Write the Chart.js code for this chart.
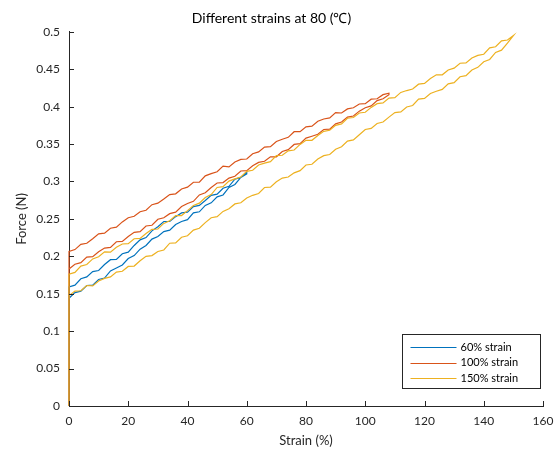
<!DOCTYPE html>
<html>
<head>
<meta charset="utf-8">
<script src="https://cdn.jsdelivr.net/npm/chart.js@4/dist/chart.umd.min.js"></script>
<style>
  html, body { margin: 0; padding: 0; background: #fff; }
  #wrap { width: 557px; height: 450px; }
</style>
</head>
<body>
<div id="wrap"><canvas id="c" width="557" height="450"></canvas></div>
<script>
// Strain grid (%) shared by all loops
const strain = [0,2,4,6,8,10,12,14,16,18,20,22,24,26,28,30,32,34,36,38,40,42,44,46,48,50,52,54,56,58,60,
  62,64,66,68,70,72,74,76,78,80,82,84,86,88,90,92,94,96,98,100,102,104,106,108,
  110,112,114,116,118,120,122,124,126,128,130,132,134,136,138,140,142,144,146,148,150];

// 60% strain: upper and lower branch of the loop (N)
const force60Up = [.159,.1615,.170,.1725,.1795,.181,.189,.1955,.196,.2035,.2055,.2145,.222,.225,.234,.2395,
  .2465,.2465,.253,.258,.259,.2665,.268,.2745,.2815,.283,.291,.2935,.303,.3055,.312];
const force60Down = [.144,.1515,.1535,.161,.1615,.169,.171,.1805,.1845,.1885,.197,.201,.2095,.2145,.223,.2265,
  .233,.235,.2425,.2465,.249,.258,.2595,.268,.2715,.2795,.282,.292,.296,.3055,.310];

// 100% strain
const force100Up = [.2065,.209,.216,.2175,.2235,.230,.231,.2375,.239,.246,.2515,.2535,.2595,.2615,.269,.271,
  .2765,.2825,.2835,.290,.2925,.299,.299,.3075,.3105,.313,.3205,.3195,.326,.3295,.330,.337,.3395,.346,.3465,
  .3535,.3565,.359,.3665,.3665,.373,.374,.3805,.3835,.385,.392,.3915,.397,.3985,.4035,.404,.410,.4105,.416,.418];
const force100Down = [.183,.1895,.1915,.199,.1995,.206,.211,.212,.2195,.220,.2265,.232,.233,.2405,.2415,.2495,
  .2515,.257,.259,.2665,.2705,.2735,.282,.285,.292,.298,.2985,.3045,.307,.314,.3145,.321,.3255,.327,.333,
  .333,.340,.3425,.3495,.3505,.358,.3605,.363,.3695,.370,.377,.3795,.386,.3875,.394,.3985,.401,.408,.4105,.416];

// 150% strain
const force150Up = [.176,.1785,.187,.189,.1965,.1995,.206,.2055,.212,.2165,.217,.2235,.224,.2305,.236,.2365,
  .244,.2475,.2545,.2545,.261,.268,.271,.2785,.2825,.292,.293,.3005,.3035,.306,.3135,.315,.322,.3245,.3265,
  .3345,.335,.341,.342,.3495,.355,.355,.3615,.367,.3685,.375,.377,.3845,.3855,.3915,.3925,.399,.404,.405,
  .4115,.412,.419,.4215,.4235,.430,.431,.4375,.4425,.4425,.449,.4515,.458,.4585,.465,.4685,.470,.4785,.480,
  .488,.489,.495];
const force150Down = [.1475,.1535,.154,.161,.1605,.167,.1705,.1725,.179,.180,.1865,.187,.194,.200,.201,.2065,
  .2085,.2175,.218,.2255,.2275,.235,.2375,.245,.2515,.253,.260,.2635,.270,.2715,.278,.2815,.284,.292,.2925,
  .2995,.3045,.306,.3115,.3145,.322,.323,.330,.3345,.336,.343,.3465,.354,.3555,.3625,.3695,.371,.3775,.3795,
  .386,.392,.393,.3995,.4015,.410,.411,.4175,.4205,.423,.4305,.432,.440,.4415,.449,.4525,.460,.463,.4725,
  .4755,.485,.495];

const seriesNames = ['60% strain', '100% strain', '150% strain'];
const seriesColors = ['#0072BD', '#D95319', '#EDB120'];
const xTicks = [0, 20, 40, 60, 80, 100, 120, 140, 160];
const yTicks = [0, 0.05, 0.1, 0.15, 0.2, 0.25, 0.3, 0.35, 0.4, 0.45, 0.5];

// One loop: jump at zero strain, up the upper branch, back down the lower one
function loopPoints(up, down) {
  const pts = [{ x: 0, y: 0 }];
  up.forEach((f, i) => pts.push({ x: strain[i], y: f }));
  for (let i = down.length - 1; i >= 0; i--) pts.push({ x: strain[i], y: down[i] });
  return pts;
}

const loops = [
  loopPoints(force60Up, force60Down),
  loopPoints(force100Up, force100Down),
  loopPoints(force150Up, force150Down)
];

const AXIS = '#262626';
const FONT = 'Lato, "Open Sans", sans-serif';
Chart.defaults.font.family = FONT;

// Inward tick marks on the left and bottom axes
const innerTicks = {
  id: 'innerTicks',
  afterDatasetsDraw(chart) {
    const { ctx, chartArea: a, scales: { x, y } } = chart;
    ctx.save();
    ctx.strokeStyle = AXIS;
    ctx.lineWidth = 1;
    ctx.beginPath();
    xTicks.forEach(v => {
      const px = Math.round(x.getPixelForValue(v)) + 0.5;
      ctx.moveTo(px, a.bottom);
      ctx.lineTo(px, a.bottom - 5);
    });
    yTicks.forEach(v => {
      const py = Math.round(y.getPixelForValue(v)) + 0.5;
      ctx.moveTo(a.left, py);
      ctx.lineTo(a.left + 5, py);
    });
    ctx.stroke();
    ctx.restore();
  }
};

// Boxed legend in the lower right corner of the plot area
const boxLegend = {
  id: 'boxLegend',
  afterDraw(chart) {
    const { ctx, chartArea: a } = chart;
    const w = 138, h = 54;
    const bx = Math.round(a.right - 3 - w) + 0.5;
    const by = Math.round(a.bottom - 18 - h) + 0.5;
    ctx.save();
    ctx.fillStyle = '#fff';
    ctx.fillRect(bx, by, w, h);
    ctx.strokeStyle = AXIS;
    ctx.lineWidth = 1;
    ctx.strokeRect(bx, by, w, h);
    ctx.font = '11px ' + FONT;
    ctx.textBaseline = 'middle';
    ctx.textAlign = 'left';
    seriesNames.forEach((name, i) => {
      const ry = by + 12.5 + i * 15.5;
      ctx.strokeStyle = seriesColors[i];
      ctx.beginPath();
      ctx.moveTo(bx + 8, Math.round(ry) + 0.5);
      ctx.lineTo(bx + 54, Math.round(ry) + 0.5);
      ctx.stroke();
      ctx.fillStyle = '#000';
      ctx.fillText(name, bx + 58, ry);
    });
    ctx.restore();
  }
};

new Chart(document.getElementById('c'), {
  type: 'scatter',
  data: {
    datasets: loops.map((pts, i) => ({
      label: seriesNames[i],
      data: pts,
      showLine: true,
      borderColor: seriesColors[i],
      backgroundColor: seriesColors[i],
      borderWidth: 1.2,
      pointRadius: 0,
      tension: 0,
      clip: 4,
      order: 3 - i
    }))
  },
  options: {
    responsive: false,
    animation: false,
    events: [],
    layout: { padding: { left: 0, right: 14, top: 0, bottom: 0 } },
    plugins: {
      legend: { display: false },
      tooltip: { enabled: false },
      title: {
        display: true,
        text: 'Different strains at 80 (℃)',
        color: '#000',
        font: { size: 14, weight: 'normal' },
        padding: { top: 10, bottom: 5 }
      }
    },
    scales: {
      x: {
        type: 'linear',
        min: 0, max: 160,
        afterBuildTicks: s => { s.ticks = xTicks.map(v => ({ value: v })); },
        afterFit: s => { s.height = 44; s.paddingLeft = 0; s.paddingRight = 0; },
        grid: { display: true, drawOnChartArea: false, drawTicks: false },
        border: { display: true, color: AXIS, width: 1 },
        ticks: { color: AXIS, font: { size: 12 }, padding: 8, maxRotation: 0 },
        title: { display: true, text: 'Strain (%)', color: AXIS, font: { size: 13 }, padding: { top: 0, bottom: 1 } }
      },
      y: {
        type: 'linear',
        min: 0, max: 0.5,
        afterBuildTicks: s => { s.ticks = yTicks.map(v => ({ value: v })); },
        afterFit: s => { s.width = 69; },
        grid: { display: true, drawOnChartArea: false, drawTicks: false },
        border: { display: true, color: AXIS, width: 1 },
        ticks: { color: AXIS, font: { size: 12 }, padding: 9, callback: v => String(+v.toFixed(2)) },
        title: { display: true, text: 'Force (N)', color: AXIS, font: { size: 13 }, padding: { top: 14, bottom: 0 } }
      }
    }
  },
  plugins: [innerTicks, boxLegend]
});
</script>
</body>
</html>
